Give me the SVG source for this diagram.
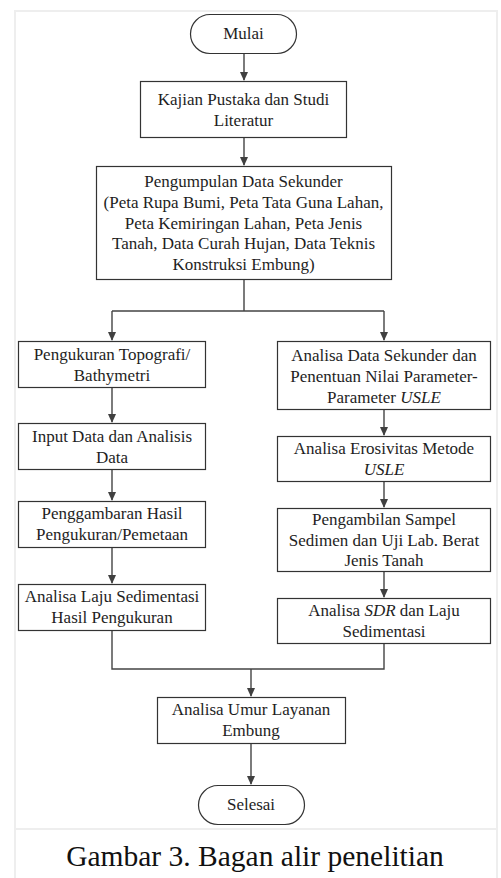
<svg xmlns="http://www.w3.org/2000/svg" width="501" height="878" viewBox="0 0 501 878">
<style>
.box{fill:#fff;stroke:#333;stroke-width:1.2}
.t{font-family:'Liberation Serif','Times New Roman',Times,'DejaVu Serif',serif;font-size:17px;fill:#1e1e1e;text-anchor:middle}
.i{font-style:italic}
.c{fill:none;stroke:#444;stroke-width:1.4}
.frame{fill:none;stroke:#eeeeee;stroke-width:2}
.cap{font-family:'Liberation Serif','Times New Roman',Times,'DejaVu Serif',serif;font-size:29.5px;fill:#111;text-anchor:middle}
</style>
<defs>
<marker id="ah" markerUnits="userSpaceOnUse" markerWidth="10" markerHeight="10" refX="8" refY="4" orient="auto">
<path d="M0,0 L9,4 L0,8 Z" fill="#404040"/>
</marker>
</defs>
<rect x="0" y="0" width="501" height="878" fill="#fff"/>
<g id="frame">
<rect class="frame" x="15" y="11" width="482" height="818"/>
<path class="frame" d="M15,830 V878 M497,830 V878"/>
</g>
<g id="connectors">
<path class="c" d="M244,53 V80" marker-end="url(#ah)"/>
<path class="c" d="M244,138 V165" marker-end="url(#ah)"/>
<path class="c" d="M244,280 V311 M112,311 H384"/>
<path class="c" d="M112,311 V340" marker-end="url(#ah)"/>
<path class="c" d="M384,311 V340" marker-end="url(#ah)"/>
<path class="c" d="M112,388 V422" marker-end="url(#ah)"/>
<path class="c" d="M112,470 V500" marker-end="url(#ah)"/>
<path class="c" d="M112,548 V583" marker-end="url(#ah)"/>
<path class="c" d="M384,410 V435" marker-end="url(#ah)"/>
<path class="c" d="M384,481 V507" marker-end="url(#ah)"/>
<path class="c" d="M384,572 V597" marker-end="url(#ah)"/>
<path class="c" d="M112,631 V669 H384 V643"/>
<path class="c" d="M251,669 V696" marker-end="url(#ah)"/>
<path class="c" d="M251,744 V784" marker-end="url(#ah)"/>
</g>
<g id="mulai">
<rect class="box" x="190.5" y="14.5" width="106" height="39" rx="19.5"/>
<text class="t" x="243.5" y="39">Mulai</text>
</g>
<g id="kajian">
<rect class="box" x="140.5" y="81.5" width="206" height="56"/>
<text class="t" x="243.5" y="105">Kajian Pustaka dan Studi</text>
<text class="t" x="243.5" y="126">Literatur</text>
</g>
<g id="pengumpulan">
<rect class="box" x="96.5" y="166.5" width="295" height="113"/>
<text class="t" x="243.5" y="187">Pengumpulan Data Sekunder</text>
<text class="t" x="243.5" y="208">(Peta Rupa Bumi, Peta Tata Guna Lahan,</text>
<text class="t" x="243.5" y="229">Peta Kemiringan Lahan, Peta Jenis</text>
<text class="t" x="243.5" y="249">Tanah, Data Curah Hujan, Data Teknis</text>
<text class="t" x="243.5" y="270">Konstruksi Embung)</text>
</g>
<g id="topografi">
<rect class="box" x="18.5" y="341.5" width="187" height="46"/>
<text class="t" x="112" y="360">Pengukuran Topografi/</text>
<text class="t" x="112" y="381">Bathymetri</text>
</g>
<g id="input">
<rect class="box" x="18.5" y="423.5" width="187" height="46"/>
<text class="t" x="112" y="442">Input Data dan Analisis</text>
<text class="t" x="112" y="463">Data</text>
</g>
<g id="penggambaran">
<rect class="box" x="18.5" y="501.5" width="187" height="46"/>
<text class="t" x="112" y="519">Penggambaran Hasil</text>
<text class="t" x="112" y="540">Pengukuran/Pemetaan</text>
</g>
<g id="lajuukur">
<rect class="box" x="18.5" y="584.5" width="187" height="46"/>
<text class="t" x="112" y="602">Analisa Laju Sedimentasi</text>
<text class="t" x="112" y="623">Hasil Pengukuran</text>
</g>
<g id="sekunder">
<rect class="box" x="277.5" y="341.5" width="213" height="68"/>
<text class="t" x="384" y="361">Analisa Data Sekunder dan</text>
<text class="t" x="384" y="382">Penentuan Nilai Parameter-</text>
<text class="t" x="384" y="403">Parameter <tspan class="i">USLE</tspan></text>
</g>
<g id="erosivitas">
<rect class="box" x="277.5" y="436.5" width="213" height="45"/>
<text class="t" x="384" y="454">Analisa Erosivitas Metode</text>
<text class="t i" x="384" y="475">USLE</text>
</g>
<g id="sampel">
<rect class="box" x="277.5" y="508.5" width="213" height="63"/>
<text class="t" x="384" y="525">Pengambilan Sampel</text>
<text class="t" x="384" y="546">Sedimen dan Uji Lab. Berat</text>
<text class="t" x="384" y="566">Jenis Tanah</text>
</g>
<g id="sdr">
<rect class="box" x="277.5" y="598.5" width="213" height="45"/>
<text class="t" x="384" y="616">Analisa <tspan class="i">SDR</tspan> dan Laju</text>
<text class="t" x="384" y="637">Sedimentasi</text>
</g>
<g id="umur">
<rect class="box" x="157.5" y="697.5" width="188" height="46"/>
<text class="t" x="251" y="715">Analisa Umur Layanan</text>
<text class="t" x="251" y="736">Embung</text>
</g>
<g id="selesai">
<rect class="box" x="198.5" y="785.5" width="106" height="39" rx="19.5"/>
<text class="t" x="251" y="810">Selesai</text>
</g>
<g id="caption">
<text class="cap" x="255" y="866">Gambar 3. Bagan alir penelitian</text>
</g>
</svg>
